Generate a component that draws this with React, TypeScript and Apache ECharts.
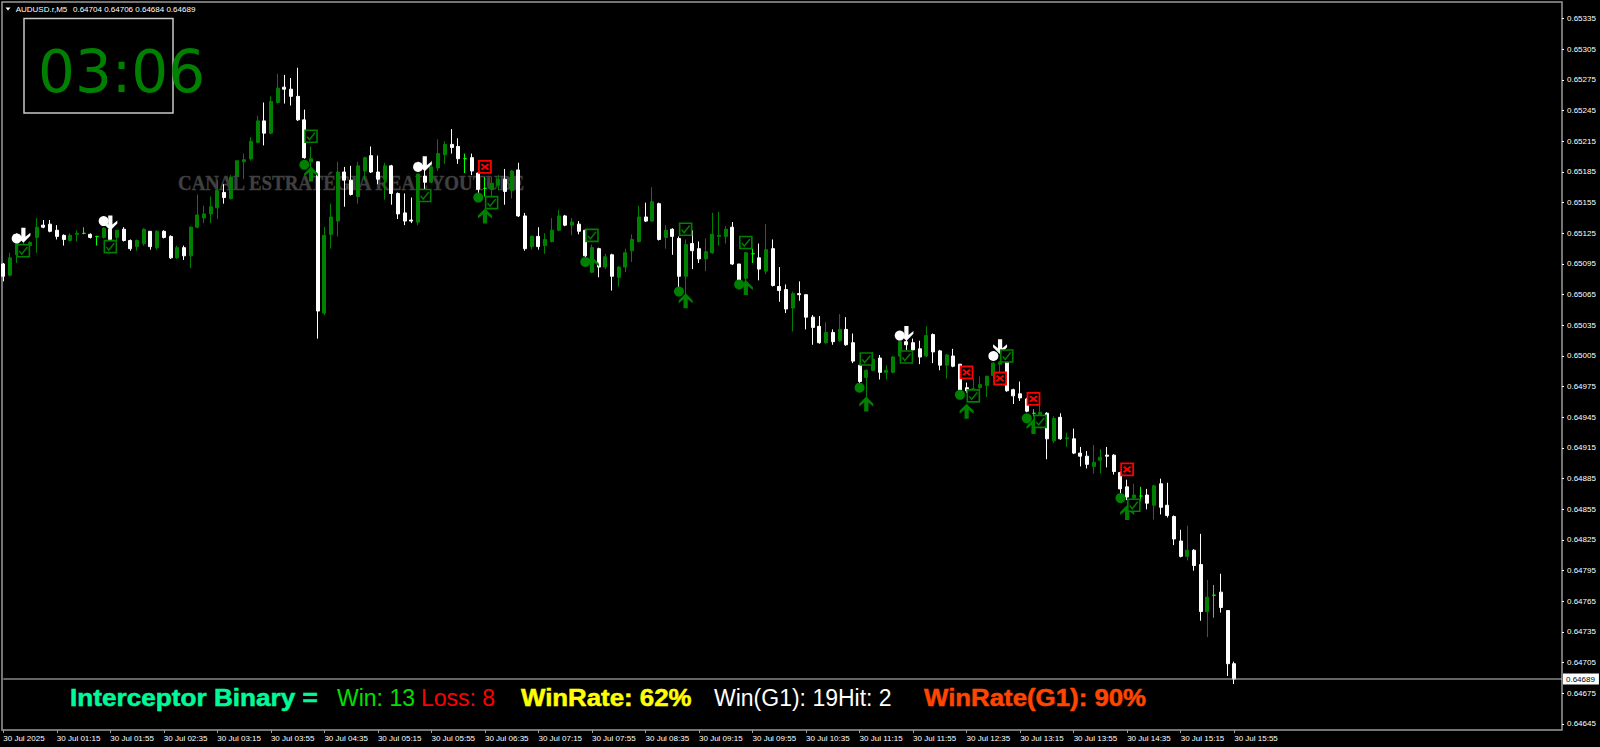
import React, { useEffect, useRef } from "react";
import * as echarts from "echarts";

const PIP = 100000;
const opens = [65095,65084,65104,65109,65113,65121,65133,65134,65128,65123,65118,65124,65125,65124,65122,65121,65129,65121,65129,65118,65112,65115,65127,65111,65127,65122,65101,65111,65103,65131,65140,65144,65150,65165,65159,65181,65195,65198,65214,65235,65223,65253,65268,65266,65259,65236,65195,65195,65047,65124,65137,65185,65177,65161,65186,65201,65185,65178,65191,65164,65145,65138,65136,65181,65175,65189,65202,65212,65210,65198,65199,65184,65169,65168,65172,65178,65167,65187,65142,65112,65122,65113,65117,65128,65142,65133,65134,65128,65087,65110,65092,65104,65082,65092,65108,65117,65141,65137,65154,65121,65129,65120,65083,65115,65110,65100,65106,65122,65122,65131,65095,65081,65105,65101,65088,65110,65073,65070,65052,65066,65065,65043,65034,65018,65028,65020,65031,65018,64996,64984,64991,65003,64989,64989,65005,65019,65018,65012,65005,65026,65010,64996,65005,64997,64974,64970,64974,64976,64986,64997,64999,64972,64968,64963,64949,64948,64949,64922,64945,64924,64924,64910,64907,64897,64903,64908,64908,64891,64877,64866,64868,64869,64859,64880,64859,64848,64824,64809,64815,64801,64755,64771,64774,64756,64704];
const highs = [65096,65106,65120,65116,65117,65140,65138,65138,65133,65124,65125,65128,65131,65125,65122,65131,65130,65128,65131,65119,65119,65130,65127,65128,65128,65123,65113,65113,65132,65163,65152,65161,65177,65173,65182,65196,65203,65219,65240,65253,65259,65281,65280,65277,65287,65246,65210,65195,65131,65154,65195,65190,65191,65195,65200,65210,65201,65194,65192,65165,65164,65160,65183,65187,65196,65217,65215,65227,65218,65203,65203,65185,65180,65180,65182,65188,65187,65194,65145,65123,65131,65125,65140,65148,65143,65140,65137,65129,65114,65111,65105,65105,65093,65110,65124,65152,65155,65170,65155,65133,65130,65122,65119,65128,65117,65120,65145,65146,65132,65136,65095,65107,65110,65115,65134,65119,65092,65075,65068,65078,65065,65045,65044,65038,65031,65046,65043,65027,64996,64992,65009,65006,64996,65005,65020,65034,65022,65020,65034,65027,65011,65007,65012,64997,64979,64983,64985,64986,64999,65000,65000,64973,64980,64964,64953,64960,64950,64946,64949,64930,64934,64916,64912,64918,64914,64916,64909,64892,64884,64880,64877,64875,64879,64885,64881,64849,64835,64839,64816,64831,64786,64781,64792,64756,64706];
const lows = [65078,65083,65096,65107,65112,65106,65130,65126,65119,65113,65117,65117,65124,65120,65113,65120,65118,65118,65117,65108,65108,65113,65109,65109,65120,65100,65100,65099,65091,65130,65135,65135,65139,65154,65158,65180,65178,65196,65213,65211,65222,65252,65252,65250,65235,65198,65176,65022,65045,65110,65122,65151,65162,65154,65177,65184,65173,65158,65153,65139,65133,65135,65133,65160,65174,65186,65193,65203,65193,65184,65182,65164,65161,65161,65167,65153,65159,65141,65108,65109,65109,65105,65116,65127,65132,65123,65124,65102,65086,65082,65090,65069,65073,65087,65097,65116,65136,65136,65118,65110,65104,65072,65065,65090,65096,65088,65105,65113,65115,65094,65077,65065,65096,65079,65085,65073,65058,65047,65029,65059,65031,65016,65017,65017,65016,65019,65015,64998,64978,64965,64990,64982,64982,64988,65004,65011,65010,64997,65004,64998,64991,64983,64994,64970,64969,64969,64969,64965,64983,64988,64970,64958,64961,64950,64946,64939,64904,64920,64923,64916,64909,64897,64895,64890,64890,64896,64889,64871,64864,64865,64863,64855,64845,64850,64847,64820,64808,64805,64795,64746,64730,64749,64754,64692,64684];
const closes = [65083,65101,65115,65114,65116,65131,65131,65127,65122,65119,65123,65125,65125,65121,65122,65130,65119,65128,65118,65110,65118,65129,65112,65127,65121,65101,65111,65103,65131,65143,65144,65151,65167,65160,65180,65196,65197,65215,65235,65223,65254,65267,65266,65259,65236,65199,65198,65049,65123,65141,65185,65177,65163,65191,65199,65185,65178,65191,65164,65144,65137,65137,65183,65175,65190,65203,65212,65209,65198,65198,65186,65168,65169,65174,65178,65166,65186,65142,65110,65122,65112,65119,65128,65142,65133,65136,65127,65103,65111,65092,65102,65083,65092,65106,65119,65141,65137,65156,65119,65128,65122,65083,65114,65108,65100,65107,65124,65123,65129,65095,65078,65106,65105,65090,65109,65074,65069,65051,65066,65065,65043,65033,65018,65028,65019,65031,65016,65000,64980,64991,65002,64989,64991,65004,65019,65016,65011,65004,65025,65009,64996,65006,64995,64972,64971,64973,64977,64985,64998,64999,64971,64966,64964,64951,64949,64950,64924,64944,64924,64925,64910,64907,64899,64901,64906,64907,64892,64875,64867,64869,64868,64861,64878,64857,64849,64826,64809,64815,64800,64755,64769,64771,64759,64704,64689];

const timeLabels = ["30 Jul 2025","30 Jul 01:15","30 Jul 01:55","30 Jul 02:35","30 Jul 03:15","30 Jul 03:55","30 Jul 04:35","30 Jul 05:15","30 Jul 05:55","30 Jul 06:35","30 Jul 07:15","30 Jul 07:55","30 Jul 08:35","30 Jul 09:15","30 Jul 09:55","30 Jul 10:35","30 Jul 11:15","30 Jul 11:55","30 Jul 12:35","30 Jul 13:15","30 Jul 13:55","30 Jul 14:35","30 Jul 15:15","30 Jul 15:55"];
const priceTicks = [0.64645,0.64675,0.64705,0.64735,0.64765,0.64795,0.64825,0.64855,0.64885,0.64915,0.64945,0.64975,0.65005,0.65035,0.65065,0.65095,0.65125,0.65155,0.65185,0.65215,0.65245,0.65275,0.65305,0.65335];
const lastPrice = 0.64689;
const barsPerLabel = 8;
const slotCount = 234;

const whiteDots = [[2,65120],[15,65137],[62,65190],[134,65025],[148,65005]];
const whiteArrows = [[3,65123],[16,65135],[63,65193],[135,65027],[149,65014]];
const greenDots = [[45,65192],[71,65160],[87,65097],[101,65068],[110,65075],[128,64974],[143,64967],[153,64944],[167,64866]];
const greenArrows = [[46,65183],[72,65142],[88,65095],[102,65059],[111,65072],[129,64958],[144,64951],[154,64936],[168,64852]];
const wins = [[3,65108],[16,65112],[46,65220],[63,65162],[73,65155],[88,65123],[102,65129],[111,65116],[129,65002],[135,65004],[145,64966],[150,65005],[155,64941],[169,64859]];
const losses = [[72,65190],[144,64989],[149,64983],[154,64963],[168,64894]];

const ARROW = "path://M20 0L40 20L40 28L26 17L26 42L14 42L14 17L0 28L0 20Z";
const TICK = "path://M0 5L3 9L10 0";
const CROSS = "path://M0 0L8 8M8 0L0 8";
const GREEN = "#008000";
const SANS = "'Liberation Sans', Arial, sans-serif";

const toPts = (list: number[][]) => list.map(([i, p]) => [i, p / PIP]);

const bottomTexts = [
  { text: "Interceptor Binary =", x: 70, fill: "#00FA9A", weight: "bold", scaleX: 1.138 },
  { text: "Win: 13", x: 337, fill: "#00E000", weight: "normal", scaleX: 1 },
  { text: "Loss: 8", x: 421, fill: "#FF0000", weight: "normal", scaleX: 1 },
  { text: "WinRate: 62%", x: 521, fill: "#FFFF00", weight: "bold", scaleX: 1.123 },
  { text: "Win(G1): 19Hit: 2", x: 714, fill: "#FFFFFF", weight: "normal", scaleX: 1 },
  { text: "WinRate(G1): 90%", x: 924, fill: "#FF4500", weight: "bold", scaleX: 1.123 },
];

export default function App() {
  const ref = useRef<HTMLDivElement>(null);
  useEffect(() => {
    document.body.style.margin = "0";
    document.body.style.background = "#000";
    const chart = echarts.init(ref.current!, null, { renderer: "svg" });
    const categories = Array.from({ length: slotCount }, (_, i) => String(i));
    const candles = opens.map((o, i) => [o / PIP, closes[i] / PIP, lows[i] / PIP, highs[i] / PIP]);
    chart.setOption({
      animation: false,
      backgroundColor: "#000",
      grid: { left: 3.3, right: 38, top: 2, bottom: 17, containLabel: false },
      xAxis: {
        type: "category",
        data: categories,
        boundaryGap: false,
        axisLine: { show: false },
        axisTick: {
          show: true,
          length: 3,
          lineStyle: { color: "#a0a0a0" },
          interval: (i: number) => i % barsPerLabel === 0 && i <= 184,
        },
        splitLine: { show: false },
        axisLabel: {
          color: "#fff",
          fontFamily: SANS,
          fontSize: 8,
          align: "left",
          margin: 4,
          hideOverlap: false,
          interval: (i: number) => i % barsPerLabel === 0 && i <= 184,
          formatter: (v: string) => timeLabels[Number(v) / barsPerLabel] ?? "",
        },
      },
      yAxis: {
        type: "value",
        position: "right",
        min: 0.6463913,
        max: 0.653513,
        splitLine: { show: false },
        axisLine: { show: false },
        axisTick: { show: true, length: 2, customValues: priceTicks, lineStyle: { color: "#fff" } },
        axisLabel: {
          color: "#fff",
          fontFamily: SANS,
          fontSize: 8,
          margin: 5,
          customValues: priceTicks,
          formatter: (v: number) => v.toFixed(5),
        },
      },
      graphic: [
        { type: "rect", z: 0, silent: true, shape: { x: 2, y: 2, width: 1560, height: 728 }, style: { fill: "transparent", stroke: "#9a9a9a", lineWidth: 1.5 } },
        { type: "polygon", z: 5, silent: true, shape: { points: [[5.5, 7.5], [10.5, 7.5], [8, 10.5]] }, style: { fill: "#fff" } },
        { type: "text", z: 5, x: 15.7, y: 9, silent: true, style: { text: "AUDUSD.r,M5", fill: "#fff", font: `8px ${SANS}`, verticalAlign: "middle" } },
        { type: "text", z: 5, x: 73, y: 9, silent: true, style: { text: "0.64704 0.64706 0.64684 0.64689", fill: "#fff", font: `8px ${SANS}`, verticalAlign: "middle" } },
        { type: "rect", z: 0, silent: true, shape: { x: 24, y: 18.5, width: 149, height: 94.5 }, style: { fill: "transparent", stroke: "#c8c8c8", lineWidth: 1.5 } },
        { type: "text", z: 5, x: 38, y: 71.5, silent: true, style: { text: "03:06", fill: GREEN, font: "58px 'DejaVu Sans'", verticalAlign: "middle" } },
        { type: "text", z: 0, x: 178, y: 182, scaleX: 0.86, silent: true, style: { text: "CANAL ESTRATÉGIA REAL YOUTUBE", fill: "#404040", stroke: "#404040", lineWidth: 0.4, font: "bold 22px 'Liberation Serif'", verticalAlign: "middle" } },
        ...bottomTexts.map((t) => ({
          type: "text",
          z: 5,
          x: t.x,
          y: 698,
          scaleX: t.scaleX,
          silent: true,
          style: {
            text: t.text,
            fill: t.fill,
            stroke: t.weight === "bold" ? t.fill : "transparent",
            lineWidth: t.weight === "bold" ? 0.5 : 0,
            font: `${t.weight} 23px ${SANS}`,
            verticalAlign: "middle",
          },
        })),
      ],
      series: [
        {
          type: "line",
          data: [[0, lastPrice], [slotCount - 1, lastPrice]],
          symbol: "none",
          silent: true,
          lineStyle: { color: "#c8c8c8", width: 1.2 },
          endLabel: {
            show: true,
            distance: 1,
            formatter: () => lastPrice.toFixed(5),
            backgroundColor: "#fff",
            color: "#000",
            fontFamily: SANS,
            fontSize: 8,
            padding: [2, 4, 1, 3],
          },
        },
        {
          type: "candlestick",
          data: candles,
          barWidth: 3.5,
          clip: false,
          itemStyle: {
            color: GREEN,
            color0: "#fff",
            borderColor: GREEN,
            borderColor0: "#fff",
            borderColorDoji: "#00FF00",
            borderWidth: 1,
          },
        },
        { type: "scatter", data: toPts(whiteDots), symbol: "circle", symbolSize: 10, itemStyle: { color: "#fff", opacity: 1 } },
        { type: "scatter", data: toPts(whiteArrows), symbol: ARROW, symbolSize: [14, 15], symbolRotate: 180, itemStyle: { color: "#fff", opacity: 1 } },
        { type: "scatter", data: toPts(greenDots), symbol: "circle", symbolSize: 10, itemStyle: { color: GREEN, opacity: 1 } },
        { type: "scatter", data: toPts(greenArrows), symbol: ARROW, symbolSize: [14, 15], itemStyle: { color: GREEN, opacity: 1 } },
        { type: "scatter", data: toPts(wins), symbol: "rect", symbolSize: 12, itemStyle: { color: "#000", borderColor: GREEN, borderWidth: 1.6, opacity: 1 } },
        { type: "scatter", data: toPts(wins), symbol: TICK, symbolSize: [8, 7], itemStyle: { color: "transparent", borderColor: GREEN, borderWidth: 1.4, opacity: 1 } },
        { type: "scatter", data: toPts(losses), symbol: "rect", symbolSize: 12, itemStyle: { color: "#000", borderColor: "#FF0000", borderWidth: 1.8, opacity: 1 } },
        { type: "scatter", data: toPts(losses), symbol: CROSS, symbolSize: [7, 5.5], itemStyle: { color: "transparent", borderColor: "#FF0000", borderWidth: 2, opacity: 1 } },
      ],
    });
    return () => chart.dispose();
  }, []);
  return <div ref={ref} style={{ width: 1600, height: 747 }} />;
}
